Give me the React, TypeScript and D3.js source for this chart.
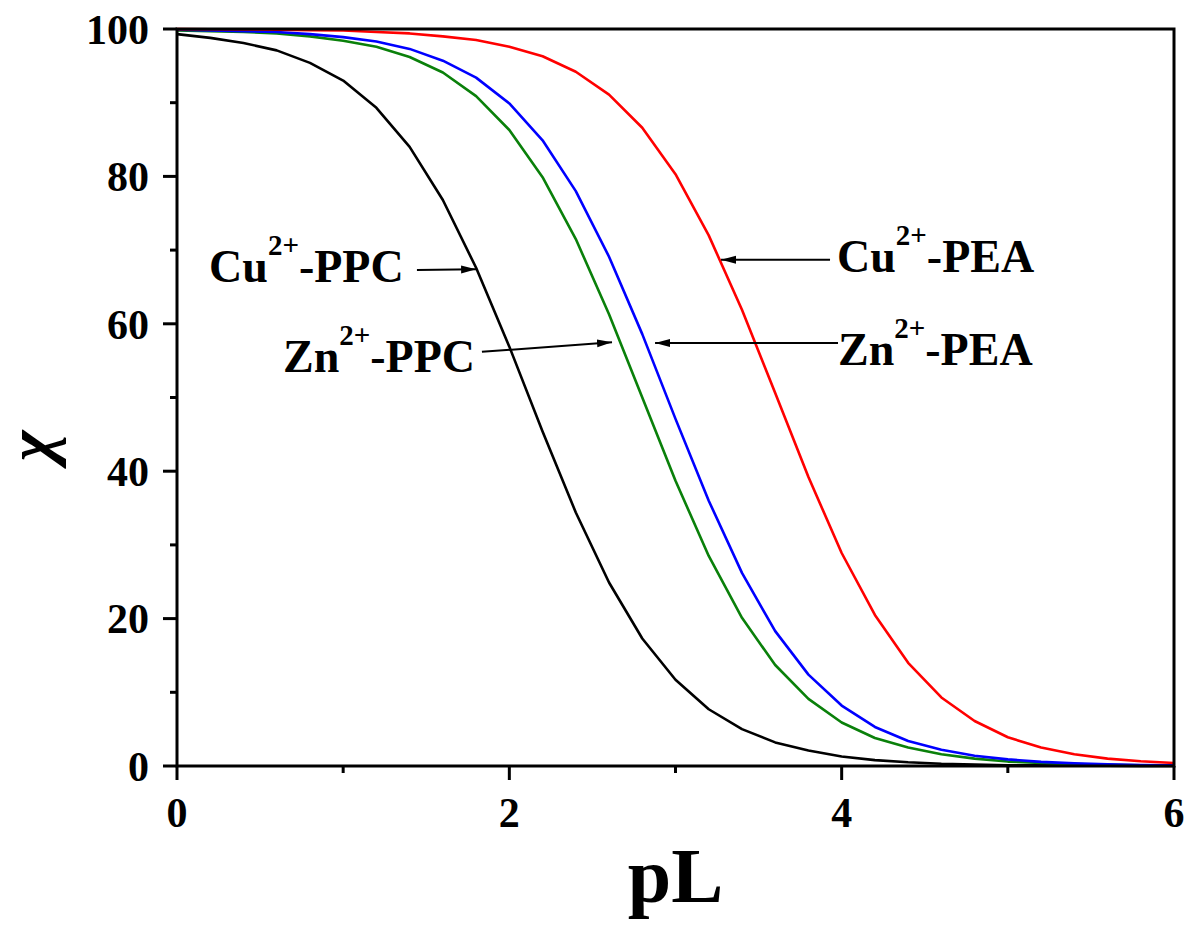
import React from 'react';
import * as d3 from 'd3';

// pL values (x) at which each curve was sampled
const pL = [0, 0.2, 0.4, 0.6, 0.8, 1.0, 1.2, 1.4, 1.6, 1.8, 2.0, 2.2, 2.4, 2.6, 2.8, 3.0,
  3.2, 3.4, 3.6, 3.8, 4.0, 4.2, 4.4, 4.6, 4.8, 5.0, 5.2, 5.4, 5.6, 5.8, 6.0];

// χ (%)
const cuPPC = [99.3, 98.8, 98.1, 97.1, 95.4, 93.0, 89.3, 84.0, 76.8, 67.6, 56.9, 45.4, 34.4, 24.9, 17.3, 11.7,
  7.7, 5.0, 3.2, 2.1, 1.3, 0.8, 0.5, 0.3, 0.2, 0.1, 0.1, 0.05, 0.03, 0.02, 0.01];
const znPPC = [99.8, 99.7, 99.6, 99.4, 99.0, 98.4, 97.6, 96.2, 94.1, 90.9, 86.3, 79.9, 71.5, 61.3, 50.0, 38.7,
  28.5, 20.1, 13.7, 9.1, 5.9, 3.8, 2.5, 1.6, 1.0, 0.6, 0.4, 0.25, 0.16, 0.1, 0.06];
const znPEA = [99.9, 99.8, 99.7, 99.6, 99.3, 98.9, 98.3, 97.3, 95.7, 93.4, 89.9, 84.9, 78.0, 69.1, 58.6, 47.1,
  36.0, 26.2, 18.3, 12.4, 8.2, 5.3, 3.4, 2.2, 1.4, 0.9, 0.56, 0.35, 0.22, 0.14, 0.09];
const cuPEA = [99.98, 99.96, 99.94, 99.9, 99.85, 99.8, 99.6, 99.4, 99.0, 98.5, 97.6, 96.3, 94.2, 91.1, 86.6, 80.3,
  72.0, 61.9, 50.6, 39.2, 28.9, 20.5, 14.0, 9.3, 6.1, 3.9, 2.5, 1.6, 1.0, 0.64, 0.41];

const seriesNames = ['Cu-PPC', 'Zn-PPC', 'Zn-PEA', 'Cu-PEA'];
const seriesValues = [cuPPC, znPPC, znPEA, cuPEA];
const seriesColors = ['#000000', '#0a800a', '#0000ff', '#ff0000'];

const xTicks = [0, 2, 4, 6];
const xMinorTicks = [1, 3, 5];
const yTicks = [0, 20, 40, 60, 80, 100];
const yMinorTicks = [10, 30, 50, 70, 90];

// annotation labels: ion, ligand, text anchor (data coords), arrow start and tip (data coords)
const annIon = ['Cu', 'Zn', 'Cu', 'Zn'];
const annLigand = ['-PPC', '-PPC', '-PEA', '-PEA'];
const annText = [[0.193, 65.7], [0.638, 53.5], [3.972, 67.0], [3.978, 54.4]];
const annFrom = [[1.444, 67.3], [1.835, 56.2], [3.93, 68.7], [3.978, 57.4]];
const annTip = [[1.80, 67.4], [2.618, 57.5], [3.274, 68.7], [2.877, 57.4]];

const W = 1192;
const H = 928;
const M = { left: 177, right: 1174, top: 29, bottom: 766 };
const FONT = "'Liberation Serif', 'Times New Roman', serif";

export default function App() {
  const x = d3.scaleLinear().domain([0, 6]).range([M.left, M.right]);
  const y = d3.scaleLinear().domain([0, 100]).range([M.bottom, M.top]);

  const line = d3
    .line<number>()
    .x((_, i) => x(pL[i]))
    .y((d) => y(d))
    .curve(d3.curveLinear);

  return (
    <svg
      width={W}
      height={H}
      viewBox={`0 0 ${W} ${H}`}
      style={{ position: 'absolute', left: 0, top: 0, background: '#fff' }}
    >
      <defs>
        <marker
          id="arrow"
          markerUnits="userSpaceOnUse"
          markerWidth={16}
          markerHeight={10}
          refX={15}
          refY={5}
          orient="auto"
        >
          <path d="M0,1 L15,5 L0,9 Z" fill="#000" />
        </marker>
      </defs>
      <rect x={0} y={0} width={W} height={H} fill="#fff" />

      {/* curves */}
      {seriesValues.map((vals, i) => (
        <path
          key={seriesNames[i]}
          d={line(vals) || ''}
          fill="none"
          stroke={seriesColors[i]}
          strokeWidth={2.6}
          strokeLinejoin="round"
        />
      ))}

      {/* frame */}
      <rect
        x={M.left}
        y={M.top}
        width={M.right - M.left}
        height={M.bottom - M.top}
        fill="none"
        stroke="#000"
        strokeWidth={3}
      />

      {/* y ticks */}
      {yTicks.map((t) => (
        <g key={'y' + t}>
          <line x1={M.left - 14} x2={M.left} y1={y(t)} y2={y(t)} stroke="#000" strokeWidth={3} />
          <text
            x={M.left - 28}
            y={y(t)}
            dy="0.35em"
            textAnchor="end"
            fontFamily={FONT}
            fontWeight="bold"
            fontSize={42}
          >
            {t}
          </text>
        </g>
      ))}
      {yMinorTicks.map((t) => (
        <line key={'ym' + t} x1={M.left - 7} x2={M.left} y1={y(t)} y2={y(t)} stroke="#000" strokeWidth={3} />
      ))}

      {/* x ticks */}
      {xTicks.map((t) => (
        <g key={'x' + t}>
          <line x1={x(t)} x2={x(t)} y1={M.bottom} y2={M.bottom + 14} stroke="#000" strokeWidth={3} />
          <text
            x={x(t)}
            y={827}
            textAnchor="middle"
            fontFamily={FONT}
            fontWeight="bold"
            fontSize={42}
          >
            {t}
          </text>
        </g>
      ))}
      {xMinorTicks.map((t) => (
        <line key={'xm' + t} x1={x(t)} x2={x(t)} y1={M.bottom} y2={M.bottom + 7} stroke="#000" strokeWidth={3} />
      ))}

      {/* axis titles */}
      <text
        x={(M.left + M.right) / 2}
        y={902}
        textAnchor="middle"
        fontFamily={FONT}
        fontWeight="bold"
        fontSize={78}
      >
        pL
      </text>
      <text
        transform={`translate(52,446) rotate(-90)`}
        textAnchor="middle"
        fontFamily={FONT}
        fontWeight="bold"
        fontStyle="italic"
        fontSize={66}
      >
        χ
      </text>

      {/* annotations */}
      {annIon.map((ion, i) => (
        <g key={'ann' + i}>
          <line
            x1={x(annFrom[i][0])}
            y1={y(annFrom[i][1])}
            x2={x(annTip[i][0])}
            y2={y(annTip[i][1])}
            stroke="#000"
            strokeWidth={2}
            markerEnd="url(#arrow)"
          />
          <text
            x={x(annText[i][0])}
            y={y(annText[i][1])}
            fontFamily={FONT}
            fontWeight="bold"
            fontSize={46}
          >
            <tspan>{ion}</tspan>
            <tspan dy={-27} fontSize={29}>2+</tspan>
            <tspan dy={27}>{annLigand[i]}</tspan>
          </text>
        </g>
      ))}
    </svg>
  );
}
